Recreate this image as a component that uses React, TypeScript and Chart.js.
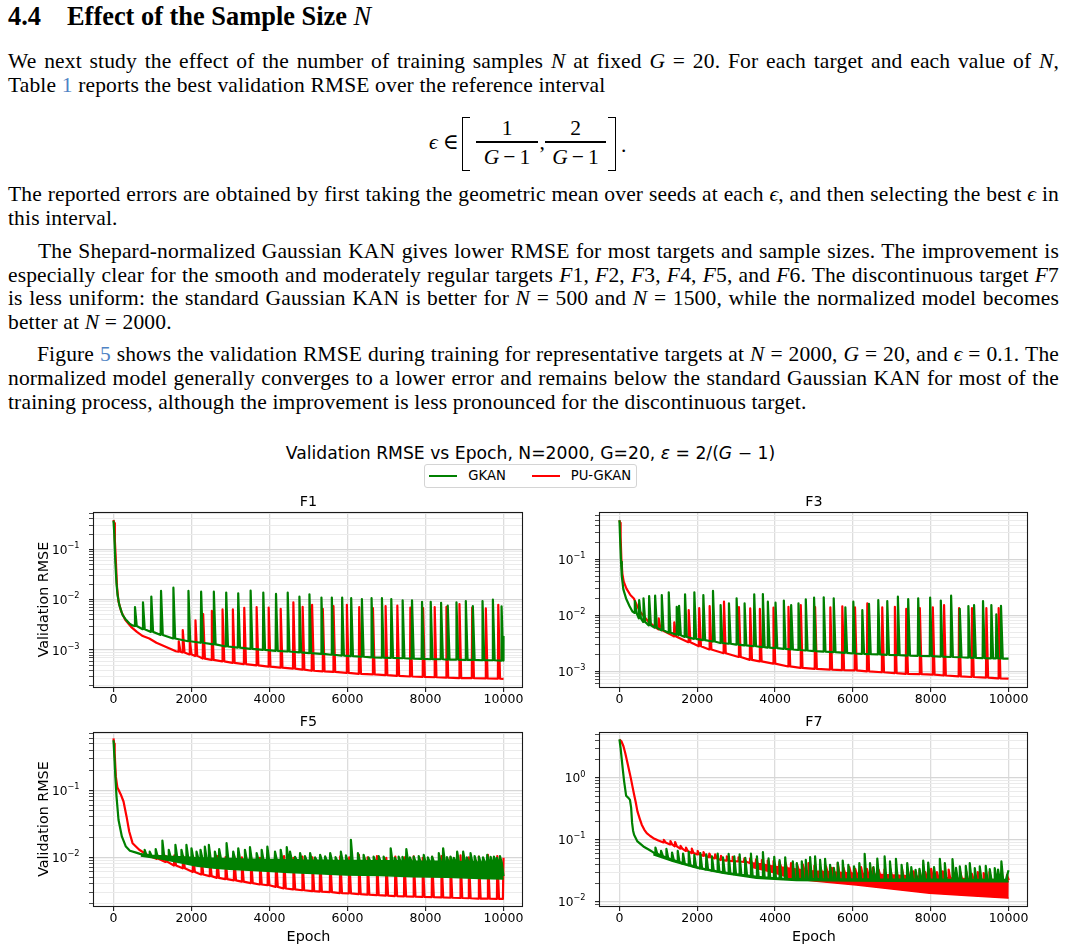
import React, { useEffect, useRef } from 'react';
import { Chart, registerables } from 'chart.js';

Chart.register(...registerables);

type Pt = [number, number];
// [epoch where the spike starts, level just before it, spike peak]
type Spike = [number, number, number];

// ---------------- axes ----------------
const EPOCH_TICKS = [0, 2000, 4000, 6000, 8000, 10000];
const EPOCH_MIN = -500;
const EPOCH_MAX = 10500;
const MANTISSAS = [1, 2, 3, 4, 5, 6, 7, 8, 9];
const LEGEND_LABELS = ['GKAN', 'PU-GKAN'];
const PANEL_TITLES = ['F1', 'F3', 'F5', 'F7'];
const Y_LIMITS: Pt[] = [
  [1.86e-4, 0.543],
  [5.24e-4, 0.695],
  [0.00186, 0.741],
  [0.0085, 5.48],
];

// width of a spike in epochs (up-stroke and return)
const SPIKE_RISE = 10;
const SPIKE_FALL = 55;

// ---------------- F1 ----------------
const f1GkanHead: Pt[] = [[0, 0.37], [20, 0.2], [45, 0.06], [75, 0.022], [103, 0.0124], [150, 0.0078], [231, 0.005], [320, 0.004], [404, 0.0034], [480, 0.0031]];
const f1GkanSpikes: Spike[] = [
  [541, 0.003, 0.0071], [746, 0.0026, 0.0089], [960, 0.0023, 0.0115], [1209, 0.002, 0.0149], [1526, 0.0017, 0.0173],
  [1912, 0.0015, 0.0149], [2237, 0.0014, 0.0144], [2563, 0.0013, 0.0144], [2880, 0.00118, 0.0138], [3188, 0.00112, 0.0134],
  [3506, 0.00106, 0.0151], [3831, 0.00101, 0.0138], [4157, 0.00097, 0.013], [4457, 0.00094, 0.0138], [4757, 0.0009, 0.0115],
  [5014, 0.00087, 0.0128], [5322, 0.00084, 0.011], [5588, 0.00081, 0.011], [5853, 0.00078, 0.011], [6085, 0.00076, 0.0107],
  [6359, 0.00074, 0.0103], [6607, 0.00072, 0.0107], [6873, 0.00071, 0.0107], [7113, 0.0007, 0.0103], [7404, 0.00069, 0.0097],
  [7644, 0.00068, 0.0097], [7901, 0.00067, 0.0091], [8124, 0.00066, 0.0091], [8390, 0.00066, 0.0087], [8561, 0.00065, 0.0076],
  [8784, 0.00065, 0.0089], [9024, 0.00064, 0.0094], [9204, 0.00064, 0.0075], [9452, 0.00063, 0.0094], [9718, 0.00063, 0.01],
  [9940, 0.00062, 0.0074],
];
const f1GkanTail: Pt[] = [[10000, 0.0019]];

const f1PuHead: Pt[] = [[0, 0.38], [15, 0.33], [35, 0.15], [60, 0.06], [90, 0.018], [129, 0.0091], [200, 0.0058], [300, 0.004], [450, 0.0029], [600, 0.0023], [750, 0.0019], [918, 0.0017], [1100, 0.0014], [1350, 0.00115], [1600, 0.00095]];
const f1PuSpikes: Spike[] = [
  [1663, 0.00093, 0.0015], [1766, 0.0009, 0.0025], [1946, 0.00082, 0.0016], [2092, 0.00077, 0.0039], [2289, 0.00068, 0.0052],
  [2512, 0.00064, 0.006], [2786, 0.0006, 0.0064], [3051, 0.00056, 0.0064], [3343, 0.00053, 0.0069], [3660, 0.0005, 0.0071],
  [3969, 0.00047, 0.007], [4277, 0.00045, 0.0066], [4602, 0.00043, 0.0089], [4840, 0.00041, 0.0072], [5082, 0.00039, 0.0079],
  [5357, 0.00038, 0.0066], [5630, 0.00037, 0.0075], [5974, 0.000355, 0.0079], [6290, 0.00034, 0.0071], [6642, 0.00033, 0.0068],
  [6967, 0.00032, 0.0075], [7268, 0.00031, 0.0076], [7602, 0.0003, 0.007], [7928, 0.000295, 0.0068], [8226, 0.00029, 0.0071],
  [8527, 0.000285, 0.0072], [8861, 0.00028, 0.0082], [9187, 0.000278, 0.007], [9537, 0.000275, 0.0067], [9856, 0.000272, 0.0079],
];
const f1PuTail: Pt[] = [[10000, 0.00027]];

// ---------------- F3 ----------------
const f3GkanHead: Pt[] = [[0, 0.5], [20, 0.2], [40, 0.09], [60, 0.05], [100, 0.029], [170, 0.02], [260, 0.0145], [330, 0.0118]];
const f3GkanSpikes: Spike[] = [
  [385, 0.011, 0.0179], [497, 0.0088, 0.0187], [608, 0.0076, 0.0201], [753, 0.0066, 0.0221], [907, 0.006, 0.0224],
  [1078, 0.0054, 0.023], [1257, 0.0049, 0.0257], [1462, 0.0045, 0.0142], [1522, 0.0044, 0.0148], [1676, 0.0041, 0.0237],
  [1915, 0.0038, 0.0257], [2146, 0.0036, 0.023], [2394, 0.0034, 0.0272], [2590, 0.0032, 0.0152], [2804, 0.0031, 0.0163],
  [3001, 0.003, 0.0201], [3206, 0.0029, 0.0163], [3454, 0.0028, 0.0237], [3676, 0.0027, 0.024], [3804, 0.00265, 0.0175],
  [4001, 0.0026, 0.0168], [4215, 0.00252, 0.0183], [4403, 0.00245, 0.0152], [4591, 0.0024, 0.0163], [4779, 0.00235, 0.0193],
  [4992, 0.0023, 0.0206], [5240, 0.00225, 0.021], [5497, 0.0022, 0.0201], [5796, 0.00213, 0.0139], [6001, 0.00208, 0.0175],
  [6232, 0.00205, 0.0124], [6403, 0.00202, 0.016], [6642, 0.002, 0.0187], [6873, 0.00197, 0.0179], [7146, 0.00194, 0.0215],
  [7411, 0.00191, 0.0195], [7668, 0.00189, 0.0201], [7975, 0.00186, 0.0206], [8249, 0.00183, 0.0183], [8514, 0.0018, 0.0224],
  [8736, 0.00178, 0.013], [8958, 0.00176, 0.0146], [9104, 0.00174, 0.0152], [9334, 0.00172, 0.0179], [9548, 0.0017, 0.0152],
  [9676, 0.0017, 0.0104], [9796, 0.00169, 0.0148],
];
const f3GkanTail: Pt[] = [[10000, 0.00168]];

const f3PuHead: Pt[] = [[0, 0.5], [15, 0.45], [30, 0.25], [50, 0.1], [75, 0.055], [110, 0.04], [180, 0.03], [280, 0.023], [370, 0.02], [450, 0.015], [530, 0.0116], [745, 0.0077], [900, 0.0063]];
const f3PuSpikes: Spike[] = [
  [1000, 0.0056, 0.0088], [1400, 0.0042, 0.0075], [1770, 0.0033, 0.0124], [2040, 0.0028, 0.0135], [2308, 0.00245, 0.0146],
  [2677, 0.0021, 0.0175], [3061, 0.0018, 0.014], [3351, 0.0016, 0.0133], [3599, 0.0015, 0.013], [3949, 0.00137, 0.0137],
  [4334, 0.00122, 0.0142], [4650, 0.00115, 0.0152], [5018, 0.0011, 0.014], [5410, 0.00107, 0.0139], [5718, 0.00105, 0.0145],
  [6044, 0.00104, 0.0138], [6360, 0.001, 0.0163], [6744, 0.00096, 0.0139], [7069, 0.00093, 0.0142], [7360, 0.0009, 0.013],
  [7710, 0.00089, 0.0135], [8044, 0.00087, 0.0139], [8333, 0.00084, 0.0152], [8718, 0.00081, 0.0134], [9051, 0.00079, 0.0134],
  [9420, 0.00077, 0.0134], [9736, 0.00075, 0.0134],
];
const f3PuTail: Pt[] = [[10000, 0.00074]];

// ---------------- F5 ----------------
const f5GkanHead: Pt[] = [[0, 0.56], [25, 0.3], [50, 0.15], [77, 0.081], [129, 0.036], [214, 0.0204], [317, 0.0144], [420, 0.0125], [560, 0.0118], [680, 0.0112]];
const f5GkanSpikes: Spike[] = [
  [789, 0.0108, 0.0129], [918, 0.0106, 0.0121], [1072, 0.0105, 0.0132], [1244, 0.0104, 0.0177], [1407, 0.0102, 0.0129],
  [1578, 0.0101, 0.0153], [1732, 0.01, 0.0129], [1860, 0.0099, 0.0153], [1989, 0.0098, 0.0136], [2118, 0.0097, 0.0121],
  [2221, 0.0097, 0.0129], [2332, 0.0096, 0.0144], [2435, 0.0096, 0.0153], [2589, 0.0095, 0.0121], [2700, 0.0095, 0.0132],
  [2889, 0.0094, 0.0162], [3060, 0.0094, 0.0121], [3189, 0.0093, 0.0136], [3360, 0.0093, 0.0129], [3489, 0.0092, 0.0141],
  [3660, 0.0092, 0.0115], [3789, 0.0092, 0.0129], [3935, 0.0091, 0.0144], [4132, 0.0091, 0.0121], [4277, 0.0091, 0.0129],
  [4432, 0.009, 0.0141], [4517, 0.009, 0.0121], [4645, 0.009, 0.0101], [4774, 0.009, 0.0115], [4900, 0.0089, 0.0104],
  [5031, 0.0089, 0.0115], [5160, 0.0089, 0.0099], [5288, 0.0089, 0.0108], [5417, 0.0089, 0.0103], [5546, 0.0089, 0.0115],
  [5683, 0.0088, 0.01], [5820, 0.0088, 0.0121], [5950, 0.0088, 0.0106], [6077, 0.0088, 0.0182], [6257, 0.0088, 0.0115],
  [6403, 0.0088, 0.0108], [6530, 0.0087, 0.0099], [6660, 0.0087, 0.0102], [6790, 0.0087, 0.0104], [6917, 0.0087, 0.0102],
  [7097, 0.0087, 0.0136], [7200, 0.0087, 0.0098], [7302, 0.0087, 0.0102], [7400, 0.0086, 0.0101], [7499, 0.0086, 0.0132],
  [7590, 0.0086, 0.0099], [7688, 0.0086, 0.0102], [7816, 0.0086, 0.0104], [7945, 0.0086, 0.0108], [8050, 0.0086, 0.0099],
  [8159, 0.0086, 0.0102], [8331, 0.0086, 0.0115], [8442, 0.0085, 0.0136], [8540, 0.0085, 0.01], [8631, 0.0085, 0.0102],
  [8716, 0.0085, 0.0098], [8802, 0.0085, 0.0121], [8956, 0.0085, 0.0121], [9050, 0.0085, 0.0099], [9145, 0.0085, 0.0115],
  [9250, 0.0084, 0.0104], [9359, 0.0084, 0.0102], [9466, 0.0084, 0.0099], [9573, 0.0084, 0.0108], [9660, 0.0084, 0.0101],
  [9745, 0.0084, 0.0102], [9820, 0.0084, 0.0098], [9899, 0.0084, 0.0104],
];
const f5GkanTail: Pt[] = [[10000, 0.0052]];
const f5GkanFloor: Pt[] = [[700, 0.0104], [1000, 0.0098], [1260, 0.0093], [1689, 0.0083], [2117, 0.0074], [2550, 0.0069], [2974, 0.0066], [3831, 0.0062], [4500, 0.0059], [5117, 0.0057], [5974, 0.0054], [6831, 0.0053], [7688, 0.0051], [8545, 0.005], [9402, 0.0048], [10000, 0.0047]];

const f5PuHead: Pt[] = [[0, 0.6], [15, 0.5], [30, 0.36], [60, 0.16], [100, 0.11], [129, 0.102], [189, 0.086], [257, 0.068], [334, 0.0407], [403, 0.0242], [489, 0.0162], [660, 0.0129], [900, 0.0105], [1050, 0.0097]];
const f5PuSpikes: Spike[] = [
  [1110, 0.0094, 0.0108], [1330, 0.0085, 0.0105], [1550, 0.0075, 0.0106], [1775, 0.0068, 0.0104], [2032, 0.006, 0.0102],
  [2246, 0.0055, 0.0105], [2461, 0.0052, 0.0101], [2649, 0.0049, 0.0104], [2863, 0.0047, 0.01], [3086, 0.0045, 0.0103],
  [3283, 0.0043, 0.0099], [3515, 0.0041, 0.0102], [3746, 0.0039, 0.0098], [3943, 0.0038, 0.0101], [4158, 0.0036, 0.0097],
  [4363, 0.0034, 0.0104], [4603, 0.0033, 0.0098], [4834, 0.0032, 0.0102], [5091, 0.0031, 0.0099], [5288, 0.00305, 0.0105],
  [5546, 0.003, 0.0098], [5803, 0.0029, 0.0103], [6034, 0.00287, 0.0099], [6283, 0.0028, 0.0108], [6505, 0.00275, 0.0099],
  [6745, 0.0027, 0.0104], [6985, 0.00266, 0.0098], [7217, 0.00262, 0.0102], [7448, 0.00259, 0.0099], [7688, 0.00257, 0.0103],
  [7919, 0.00255, 0.0098], [8159, 0.00252, 0.0101], [8399, 0.0025, 0.0104], [8631, 0.00247, 0.0099], [8888, 0.00245, 0.0106],
  [9102, 0.00243, 0.0099], [9359, 0.0024, 0.0102], [9591, 0.00239, 0.0108], [9831, 0.00237, 0.0104],
];
const f5PuTail: Pt[] = [[9985, 0.00237], [10000, 0.0098]];

// ---------------- F7 ----------------
const f7GkanHead: Pt[] = [[0, 4.18], [30, 3.0], [60, 1.98], [90, 1.3], [120, 0.88], [171, 0.516], [231, 0.474], [270, 0.44], [300, 0.33], [325, 0.187], [350, 0.14], [376, 0.12], [462, 0.094], [615, 0.078], [760, 0.069], [860, 0.063]];
const f7GkanSpikes: Spike[] = [
  [915, 0.06, 0.075], [1060, 0.055, 0.066], [1197, 0.051, 0.071], [1342, 0.047, 0.062], [1488, 0.044, 0.066],
  [1625, 0.041, 0.06], [1770, 0.039, 0.064], [1915, 0.0365, 0.057], [2069, 0.0345, 0.061], [2223, 0.033, 0.058],
  [2368, 0.0318, 0.054], [2514, 0.0307, 0.06], [2651, 0.0297, 0.052], [2796, 0.0287, 0.059], [2941, 0.0279, 0.054],
  [3078, 0.0272, 0.058], [3224, 0.0265, 0.051], [3369, 0.0258, 0.06], [3523, 0.0252, 0.054], [3677, 0.0247, 0.063],
  [3822, 0.0243, 0.05], [3968, 0.0239, 0.053], [4105, 0.0236, 0.047], [4250, 0.0234, 0.052], [4445, 0.0232, 0.0446],
  [4548, 0.0232, 0.0419], [4676, 0.0232, 0.0446], [4779, 0.0231, 0.0474], [4890, 0.0231, 0.0525], [5018, 0.0231, 0.0537],
  [5147, 0.0231, 0.0474], [5275, 0.023, 0.0492], [5403, 0.023, 0.0393], [5500, 0.023, 0.035], [5600, 0.023, 0.0429],
  [5728, 0.023, 0.046], [5873, 0.0229, 0.0393], [6019, 0.0229, 0.037], [6155, 0.0229, 0.0419], [6292, 0.0229, 0.0593],
  [6429, 0.0229, 0.0419], [6520, 0.0228, 0.036], [6617, 0.0228, 0.0498], [6805, 0.0228, 0.0537], [6942, 0.0228, 0.0446],
  [7096, 0.0227, 0.0492], [7241, 0.0227, 0.0393], [7386, 0.0227, 0.0419], [7490, 0.0227, 0.036], [7600, 0.0227, 0.0327],
  [7700, 0.0226, 0.034], [7797, 0.0226, 0.046], [7925, 0.0226, 0.0429], [8075, 0.0226, 0.036], [8224, 0.0226, 0.0492],
  [8352, 0.0226, 0.0419], [8549, 0.0225, 0.0485], [8640, 0.0225, 0.035], [8737, 0.0225, 0.037], [8891, 0.0225, 0.0378],
  [8993, 0.0225, 0.0419], [9122, 0.0225, 0.0348], [9250, 0.0225, 0.037], [9404, 0.0224, 0.0378], [9507, 0.0224, 0.0335],
  [9635, 0.0224, 0.0348], [9720, 0.0224, 0.033], [9806, 0.0224, 0.0446],
];
const f7GkanTail: Pt[] = [[9930, 0.0224], [10000, 0.0322]];
const f7GkanFloor: Pt[] = [[872, 0.0572], [1385, 0.0444], [1983, 0.0348], [2667, 0.0288], [3521, 0.0239], [4547, 0.0219], [6085, 0.0216], [7965, 0.0211], [9940, 0.021], [10000, 0.021]];

const f7PuHead: Pt[] = [[0, 4.18], [50, 3.9], [103, 3.25], [150, 2.5], [205, 1.75], [250, 1.3], [291, 1.0], [330, 0.75], [376, 0.537], [420, 0.4], [462, 0.288], [520, 0.22], [573, 0.175], [640, 0.145], [701, 0.128], [790, 0.115], [872, 0.106], [1000, 0.097], [1080, 0.093]];
const f7PuSpikes: Spike[] = [
  [1130, 0.0905, 0.1], [1300, 0.084, 0.095], [1420, 0.078, 0.092], [1560, 0.072, 0.08], [1700, 0.066, 0.075],
  [1850, 0.061, 0.072], [2000, 0.058, 0.066], [2150, 0.055, 0.063], [2300, 0.052, 0.06], [2450, 0.05, 0.058],
  [2600, 0.047, 0.055], [2750, 0.046, 0.054], [2900, 0.045, 0.053], [3050, 0.0445, 0.052], [3200, 0.044, 0.05],
  [3350, 0.042, 0.05], [3500, 0.041, 0.048], [3650, 0.04, 0.047], [3800, 0.038, 0.046], [3950, 0.037, 0.045],
  [4100, 0.036, 0.044], [4250, 0.035, 0.043], [4400, 0.034, 0.042], [4550, 0.033, 0.041], [4700, 0.032, 0.04],
  [4850, 0.031, 0.042], [5000, 0.03, 0.038], [5150, 0.03, 0.036], [5300, 0.029, 0.037], [5450, 0.029, 0.035],
  [5600, 0.028, 0.042], [5750, 0.028, 0.035], [5900, 0.0275, 0.036], [6050, 0.027, 0.034], [6200, 0.027, 0.036],
  [6350, 0.0265, 0.034], [6500, 0.026, 0.035], [6650, 0.026, 0.033], [6800, 0.0255, 0.033], [6950, 0.0255, 0.034],
  [7100, 0.025, 0.032], [7250, 0.025, 0.034], [7400, 0.0245, 0.032], [7550, 0.0245, 0.031], [7700, 0.024, 0.032],
  [7850, 0.024, 0.03], [8000, 0.0237, 0.034], [8150, 0.0235, 0.03], [8300, 0.0233, 0.031], [8450, 0.023, 0.033],
  [8600, 0.023, 0.029], [8750, 0.0228, 0.03], [8900, 0.0227, 0.031], [9050, 0.0226, 0.028], [9200, 0.0225, 0.03],
  [9350, 0.0225, 0.029], [9500, 0.0225, 0.03], [9650, 0.0224, 0.028], [9800, 0.0224, 0.029], [9950, 0.0223, 0.027],
];
const f7PuTail: Pt[] = [[10000, 0.0223]];
const f7PuFloor: Pt[] = [[3400, 0.036], [4000, 0.029], [4377, 0.024], [5000, 0.0215], [6087, 0.0186], [7000, 0.016], [7968, 0.0137], [9000, 0.0124], [9977, 0.0114], [10000, 0.0113]];

// ---------------- styling ----------------
const FONT = "'DejaVu Sans', sans-serif";
const SERIF = "'Liberation Serif', 'DejaVu Serif', serif";
const GREEN = '#008000';
const RED = '#ff0000';
const LINK = '#4f83c4';
const LINE_WIDTH = 2.2;

type Series = { head: Pt[]; spikes: Spike[]; tail: Pt[]; floor?: Pt[] };

function trace(s: Series) {
  const pts = s.head.map(([x, y]) => ({ x, y }));
  s.spikes.forEach(([e, base, peak]) => {
    pts.push({ x: e, y: base }, { x: e + SPIKE_RISE, y: peak }, { x: e + SPIKE_FALL, y: base });
  });
  s.tail.forEach(([x, y]) => pts.push({ x, y }));
  return pts;
}

function isDecade(v: number) {
  if (!(v > 0)) return false;
  const l = Math.log10(v);
  return Math.abs(l - Math.round(l)) < 1e-6;
}

function logTicks(min: number, max: number) {
  const out: number[] = [];
  for (let e = Math.floor(Math.log10(min)); e <= Math.ceil(Math.log10(max)); e++) {
    for (const m of MANTISSAS) {
      const v = parseFloat((m * Math.pow(10, e)).toPrecision(6));
      if (v >= min && v <= max) out.push(v);
    }
  }
  return out;
}

// closes the box around the plotting area (top and right sides included)
const axesFrame = {
  id: 'axesFrame',
  afterDatasetsDraw(chart: any) {
    const { ctx, chartArea: a } = chart;
    const l = Math.round(a.left) - 0.5;
    const t = Math.round(a.top) + 0.5;
    const r = Math.round(a.right) - 0.5;
    const b = Math.round(a.bottom) + 0.5;
    ctx.save();
    ctx.strokeStyle = '#1a1a1a';
    ctx.lineWidth = 1.1;
    ctx.strokeRect(l, t, r - l, b - t);
    ctx.restore();
  },
};

// power-of-ten labels on the log axis, written as 10 with a raised exponent
const decadeLabels = {
  id: 'decadeLabels',
  afterDraw(chart: any) {
    const scale = chart.scales.y;
    const ctx = chart.ctx;
    const right = scale.right - 14.5;
    ctx.save();
    ctx.fillStyle = '#000';
    ctx.textAlign = 'left';
    ctx.textBaseline = 'alphabetic';
    for (const t of scale.ticks) {
      if (!isDecade(t.value)) continue;
      const py = scale.getPixelForValue(t.value);
      const e = Math.round(Math.log10(t.value));
      const exp = e < 0 ? '\u2212' + String(-e) : String(e);
      ctx.font = `8.2px ${FONT}`;
      const ew = ctx.measureText(exp).width;
      ctx.font = `12.2px ${FONT}`;
      const bw = ctx.measureText('10').width;
      ctx.fillText('10', right - ew - bw, py + 4.4);
      ctx.font = `8.2px ${FONT}`;
      ctx.fillText(exp, right - ew, py - 1.3);
    }
    ctx.restore();
  },
};

type PanelSpec = {
  title: string;
  left: number; top: number; width: number; height: number;
  yWidth: number; xHeight: number;
  yLimits: Pt;
  yTitle: boolean; xTitle: boolean;
  gkan: Series; pu: Series;
};

const PANELS: PanelSpec[] = [
  { title: PANEL_TITLES[0], left: 30, top: 494, width: 503, height: 218, yWidth: 64, xHeight: 25, yLimits: Y_LIMITS[0], yTitle: true, xTitle: false,
    gkan: { head: f1GkanHead, spikes: f1GkanSpikes, tail: f1GkanTail }, pu: { head: f1PuHead, spikes: f1PuSpikes, tail: f1PuTail } },
  { title: PANEL_TITLES[1], left: 545, top: 494, width: 493, height: 218, yWidth: 55, xHeight: 25, yLimits: Y_LIMITS[1], yTitle: false, xTitle: false,
    gkan: { head: f3GkanHead, spikes: f3GkanSpikes, tail: f3GkanTail }, pu: { head: f3PuHead, spikes: f3PuSpikes, tail: f3PuTail } },
  { title: PANEL_TITLES[2], left: 30, top: 714, width: 503, height: 237, yWidth: 64, xHeight: 45, yLimits: Y_LIMITS[2], yTitle: true, xTitle: true,
    gkan: { head: f5GkanHead, spikes: f5GkanSpikes, tail: f5GkanTail, floor: f5GkanFloor }, pu: { head: f5PuHead, spikes: f5PuSpikes, tail: f5PuTail } },
  { title: PANEL_TITLES[3], left: 545, top: 714, width: 493, height: 237, yWidth: 55, xHeight: 45, yLimits: Y_LIMITS[3], yTitle: false, xTitle: true,
    gkan: { head: f7GkanHead, spikes: f7GkanSpikes, tail: f7GkanTail, floor: f7GkanFloor }, pu: { head: f7PuHead, spikes: f7PuSpikes, tail: f7PuTail, floor: f7PuFloor } },
];

function buildConfig(p: PanelSpec): any {
  const datasets: any[] = [];
  const add = (s: Series, label: string, color: string, order: number) => {
    const idx = datasets.length;
    datasets.push({
      label, data: trace(s), borderColor: color, backgroundColor: color, borderWidth: LINE_WIDTH,
      pointRadius: 0, borderJoinStyle: 'round', fill: s.floor ? idx + 1 : false, order,
    });
    if (s.floor) {
      datasets.push({
        label, data: s.floor.map(([x, y]) => ({ x, y })), borderColor: color, backgroundColor: color,
        borderWidth: 1.5, pointRadius: 0, fill: false, order: order + 1,
      });
    }
  };
  // GKAN is drawn above PU-GKAN
  add(p.gkan, LEGEND_LABELS[0], GREEN, 0);
  add(p.pu, LEGEND_LABELS[1], RED, 10);

  const [yMin, yMax] = p.yLimits;
  const yTicks = logTicks(yMin, yMax);
  const tickFont = { family: FONT, size: 12.5 };
  const labelFont = { family: FONT, size: 14.3 };

  return {
    type: 'line',
    data: { datasets },
    plugins: [axesFrame, decadeLabels],
    options: {
      animation: false,
      responsive: false,
      events: [],
      layout: { padding: { left: 0, right: 10, top: 0, bottom: 0 } },
      plugins: {
        legend: { display: false },
        tooltip: { enabled: false },
        title: {
          display: true, text: p.title, fullSize: false, color: '#000',
          font: { family: FONT, size: 14.3, weight: 'normal' }, padding: { top: 0, bottom: 1 },
        },
      },
      scales: {
        x: {
          type: 'linear', min: EPOCH_MIN, max: EPOCH_MAX,
          afterBuildTicks: (s: any) => { s.ticks = EPOCH_TICKS.map((value) => ({ value })); },
          afterFit: (s: any) => { s.height = p.xHeight; },
          ticks: { autoSkip: false, maxRotation: 0, minRotation: 0, padding: 0, color: '#000', font: tickFont, callback: (v: any) => String(v) },
          grid: { color: '#dcdcdc', lineWidth: 1.3, drawTicks: true, tickLength: 5, tickColor: '#000', tickWidth: 1 },
          border: { display: false },
          title: { display: p.xTitle, text: 'Epoch', color: '#000', font: labelFont, padding: { top: 0, bottom: 5 } },
        },
        y: {
          type: 'logarithmic', min: yMin, max: yMax,
          afterBuildTicks: (s: any) => { s.ticks = yTicks.map((value) => ({ value })); },
          afterFit: (s: any) => { s.width = p.yWidth; },
          ticks: { display: false, autoSkip: false },
          grid: {
            color: (c: any) => (c.tick && isDecade(c.tick.value) ? '#d6d6d6' : '#ebebeb'),
            lineWidth: (c: any) => (c.tick && isDecade(c.tick.value) ? 1.3 : 1),
            drawTicks: true, tickLength: 5, tickColor: '#000',
            tickWidth: (c: any) => (c.tick && isDecade(c.tick.value) ? 1 : 0.7),
          },
          border: { display: false },
          title: { display: p.yTitle, text: 'Validation RMSE', color: '#000', font: labelFont, padding: { top: 6, bottom: 0 } },
        },
      },
    },
  };
}

function Panel({ spec }: { spec: PanelSpec }) {
  const ref = useRef<HTMLCanvasElement>(null);
  useEffect(() => {
    const chart = new Chart(ref.current as HTMLCanvasElement, buildConfig(spec));
    return () => chart.destroy();
  }, [spec]);
  return (
    <canvas
      ref={ref}
      width={spec.width}
      height={spec.height}
      style={{ position: 'absolute', left: spec.left, top: spec.top, width: spec.width, height: spec.height }}
    />
  );
}

// ---------------- page text ----------------
const BODY_SIZE = 21.5;
const BODY_LEAD = 24;
const BODY_TRACKING = 0.15;
const HEAD_SIZE = 26.4;
const topFor = (baseline: number, size: number, lead: number) => baseline - ((lead - 1.107 * size) / 2 + 0.891 * size);

const BODY_LINES: { base: number; indent: number; full: boolean; text: React.ReactNode }[] = [
  { base: 68.5, indent: 0, full: true, text: <>We next study the effect of the number of training samples <i>N</i> at fixed <i>G</i> = 20. For each target and each value of <i>N</i>,</> },
  { base: 92.3, indent: 0, full: false, text: <>Table <span style={{ color: LINK }}>1</span> reports the best validation RMSE over the reference interval</> },
  { base: 201.7, indent: 0, full: true, text: <>The reported errors are obtained by first taking the geometric mean over seeds at each <i>{'\u03f5'}</i>, and then selecting the best <i>{'\u03f5'}</i> in</> },
  { base: 225.3, indent: 0, full: false, text: <>this interval.</> },
  { base: 258.3, indent: 30, full: true, text: <>The Shepard-normalized Gaussian KAN gives lower RMSE for most targets and sample sizes. The improvement is</> },
  { base: 282, indent: 0, full: true, text: <>especially clear for the smooth and moderately regular targets <i>F</i>1, <i>F</i>2, <i>F</i>3, <i>F</i>4, <i>F</i>5, and <i>F</i>6. The discontinuous target <i>F</i>7</> },
  { base: 305.7, indent: 0, full: true, text: <>is less uniform: the standard Gaussian KAN is better for <i>N</i> = 500 and <i>N</i> = 1500, while the normalized model becomes</> },
  { base: 329.3, indent: 0, full: false, text: <>better at <i>N</i> = 2000.</> },
  { base: 361.7, indent: 29, full: true, text: <>Figure <span style={{ color: LINK }}>5</span> shows the validation RMSE during training for representative targets at <i>N</i> = 2000, <i>G</i> = 20, and <i>{'\u03f5'}</i> = 0.1. The</> },
  { base: 385.3, indent: 0, full: true, text: <>normalized model generally converges to a lower error and remains below the standard Gaussian KAN for most of the</> },
  { base: 409, indent: 0, full: false, text: <>training process, although the improvement is less pronounced for the discontinuous target.</> },
];

function Glyph({ x, base, children, width, center }: { x: number; base: number; children: React.ReactNode; width?: number; center?: boolean }) {
  return (
    <div style={{
      position: 'absolute', left: x, top: topFor(base, BODY_SIZE, BODY_LEAD), width, height: BODY_LEAD,
      lineHeight: `${BODY_LEAD}px`, fontSize: BODY_SIZE, whiteSpace: 'nowrap', textAlign: center ? 'center' : 'left',
    }}>{children}</div>
  );
}

function Fraction({ x, width, num }: { x: number; width: number; num: string }) {
  return (
    <>
      <Glyph x={x} width={width} base={135.3} center>{num}</Glyph>
      <div style={{ position: 'absolute', left: x, top: 141.3, width, height: 1.3, background: '#000' }} />
      <Glyph x={x} width={width} base={164} center>
        <i>G</i><span style={{ margin: '0 4px' }}>{'\u2212'}</span>1
      </Glyph>
    </>
  );
}

function Equation() {
  const bracket: React.CSSProperties = { position: 'absolute', top: 116.5, width: 8, height: 54, borderTop: '1.3px solid #000', borderBottom: '1.3px solid #000', boxSizing: 'border-box' };
  return (
    <>
      <Glyph x={429} base={149}><i>{'\u03f5'}</i></Glyph>
      <Glyph x={443} base={149}>{'\u2208'}</Glyph>
      <div style={{ ...bracket, left: 462, borderLeft: '1.5px solid #000' }} />
      <Fraction x={476} width={62} num="1" />
      <Glyph x={539.5} base={149}>,</Glyph>
      <Fraction x={545} width={61} num="2" />
      <div style={{ ...bracket, left: 608, borderRight: '1.5px solid #000' }} />
      <Glyph x={621} base={152}>.</Glyph>
    </>
  );
}

function Legend() {
  const text: React.CSSProperties = { position: 'absolute', top: 2.7, fontFamily: FONT, fontSize: 13.2, lineHeight: '16px', color: '#000', whiteSpace: 'nowrap' };
  const swatch: React.CSSProperties = { position: 'absolute', top: 10, width: 28, height: 2 };
  return (
    <div style={{ position: 'absolute', left: 424, top: 464, width: 213, height: 24, boxSizing: 'border-box', border: '1px solid #d4d4d4', borderRadius: 3, background: '#fff' }}>
      <div style={{ ...swatch, left: 4, background: GREEN }} />
      <div style={{ ...text, left: 43.3 }}>{LEGEND_LABELS[0]}</div>
      <div style={{ ...swatch, left: 106.7, background: RED }} />
      <div style={{ ...text, left: 145.7 }}>{LEGEND_LABELS[1]}</div>
    </div>
  );
}

export default function App() {
  const headTop = topFor(24.5, HEAD_SIZE, 30);
  return (
    <div style={{ position: 'absolute', left: 0, top: 0, width: 1067, height: 951, overflow: 'hidden', background: '#fff', color: '#000', fontFamily: SERIF }}>
      {/* section heading */}
      <div style={{ position: 'absolute', left: 8, top: headTop, lineHeight: '30px', fontSize: HEAD_SIZE, fontWeight: 'bold', whiteSpace: 'nowrap' }}>4.4</div>
      <div style={{ position: 'absolute', left: 67, top: headTop, lineHeight: '30px', fontSize: HEAD_SIZE, fontWeight: 'bold', whiteSpace: 'nowrap' }}>
        Effect of the Sample Size <i style={{ fontWeight: 'normal' }}>N</i>
      </div>

      {BODY_LINES.map((ln, i) => (
        <div key={i} style={{
          position: 'absolute', left: 8 + ln.indent, width: 1051 - ln.indent, top: topFor(ln.base, BODY_SIZE, BODY_LEAD),
          height: BODY_LEAD, lineHeight: `${BODY_LEAD}px`, fontSize: BODY_SIZE, letterSpacing: BODY_TRACKING,
          textAlign: ln.full ? 'justify' : 'left', textAlignLast: ln.full ? 'justify' : 'auto',
        }}>{ln.text}</div>
      ))}

      <Equation />

      {/* figure */}
      <div style={{ position: 'absolute', left: 0, width: 1061, top: 443, lineHeight: '20px', fontSize: 17.2, fontFamily: FONT, textAlign: 'center', whiteSpace: 'nowrap' }}>
        Validation RMSE vs Epoch, N=2000, G=20, <i>{'\u03b5'}</i> = 2/(<i>G</i> {'\u2212'} 1)
      </div>
      <Legend />
      {PANELS.map((p) => <Panel key={p.title} spec={p} />)}
    </div>
  );
}
